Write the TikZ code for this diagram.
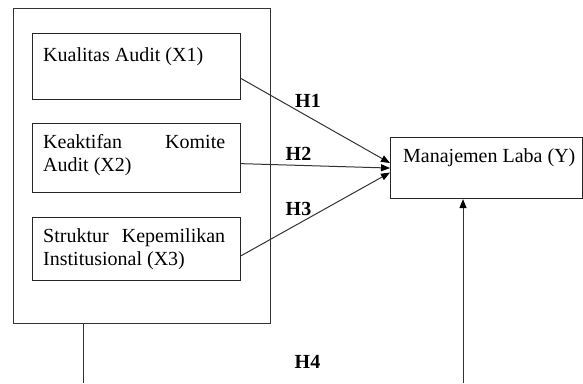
\documentclass[tikz,border=0pt]{standalone}
\usepackage{fontspec}
\setmainfont{Liberation Serif}
\usetikzlibrary{arrows.meta,positioning}
\hyphenpenalty=10000
\tikzset{
  every node/.style={font=\fontsize{20pt}{23pt}\selectfont},
  varbox/.style={draw=black!85, line width=1.1pt, minimum width=208pt},
  vartext/.style={inner sep=0pt, text width=182pt, align=justify, anchor=north west},
  link/.style={draw=black!80, line width=1pt},
  hyp/.style={font=\fontsize{20pt}{23pt}\selectfont\bfseries, inner sep=0pt, anchor=base},
  tip/.style={-{Triangle[length=9pt,width=7pt,color=black]}}
}
\begin{document}
\begin{tikzpicture}[x=1pt,y=-1pt]
  \useasboundingbox (0,0) rectangle (583,383);
  % Outer frame round the independent variables
  \node[draw=black!80, line width=1.1pt, minimum width=257pt, minimum height=315pt, anchor=north west] (frame) at (13,8) {};

  % Independent variables
  \node[varbox, minimum height=66pt, anchor=north west] (kualitas) at (32,33) {};
  \node[varbox, minimum height=69pt, below=23pt of kualitas] (komite) {};
  \node[varbox, minimum height=63pt, below=24pt of komite] (struktur) {};
  \node[vartext] (kualitas-t) at ([xshift=11pt,yshift=-14pt]kualitas.north west) {Kualitas Audit (X1)};
  \node[vartext] (komite-t) at ([xshift=11pt,yshift=-11pt]komite.north west) {Keaktifan Komite Audit (X2)};
  \node[vartext] (struktur-t) at ([xshift=11pt,yshift=-11pt]struktur.north west) {Struktur Kepemilikan Institusional (X3)};

  % Dependent variable
  \node[varbox, minimum width=192pt, minimum height=61pt, anchor=north west] (manajemen) at (390,137) {};
  \node[inner sep=0pt, anchor=north west] (manajemen-t) at ([xshift=13pt,yshift=-11pt]manajemen.north west) {Manajemen Laba (Y)};

  % Hypotheses H1--H3
  \draw[link, tip] ([yshift=-12pt]kualitas.east) -- ([yshift=5pt]manajemen.west);
  \draw[link, tip] ([yshift=-5.5pt]komite.east) -- (manajemen.west);
  \draw[link, tip] ([yshift=-6.5pt]struktur.east) -- ([yshift=-4.5pt]manajemen.west);
  \node[hyp] (h1) at (308,107) {H1};
  \node[hyp] (h2) at (298.5,160) {H2};
  \node[hyp] (h3) at (298.5,215) {H3};

  % H4, cut off at the bottom
  \coordinate (cut-l) at (83,383);
  \coordinate (cut-r) at (463,383);
  \draw[link] (frame.south -| cut-l) -- (cut-l);
  \draw[link, tip] (cut-r) -- (cut-r |- manajemen.south);
  \node[hyp] (h4) at (307.5,368) {H4};
\end{tikzpicture}
\end{document}
